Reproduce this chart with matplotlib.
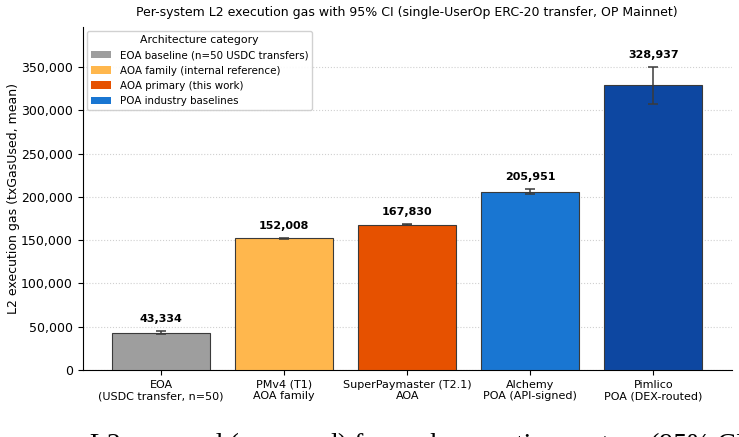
import matplotlib
matplotlib.use("Agg")
import matplotlib.pyplot as plt
from matplotlib.patches import Patch
import numpy as np

categories = ["EOA\n(USDC transfer, n=50)", "PMv4 (T1)\nAOA family", "SuperPaymaster (T2.1)\nAOA",
              "Alchemy\nPOA (API-signed)", "Pimlico\nPOA (DEX-routed)"]
means = [43334, 152008, 167830, 205951, 328937]
ci_half = [1600, 400, 400, 2900, 21600]
colors = ["#9e9e9e", "#ffb74d", "#e65100", "#1976d2", "#0d47a1"]
legend_labels = ["EOA baseline (n=50 USDC transfers)", "AOA family (internal reference)",
                 "AOA primary (this work)", "POA industry baselines"]
legend_colors = ["#9e9e9e", "#ffb74d", "#e65100", "#1976d2"]
caption = "are our L2 gas used (mean, sd) for each execution system (95% CI)"

fig = plt.figure(figsize=(7.39, 4.37), dpi=100)
ax = fig.add_axes([82.5/739, 1-370/437, (732-82.5)/739, (370-27)/437])

x = np.arange(len(categories))
ax.bar(x, means, width=0.8, color=colors, edgecolor="#3a3a3a", linewidth=0.8,
       yerr=ci_half, capsize=3.5, error_kw=dict(ecolor="#3a3a3a", elinewidth=1.1, capthick=1.1), zorder=3)
for xi, m, c in zip(x, means, ci_half):
    ax.annotate(f"{m:,}", (xi, m + c), xytext=(0, 5), textcoords="offset points",
                ha="center", va="bottom", fontsize=8, fontweight="bold")

ax.set_xticks(x)
ax.set_xticklabels(categories, fontsize=8)
ax.set_ylim(0, max(means) * 1.205)
ax.yaxis.set_major_formatter(matplotlib.ticker.FuncFormatter(lambda v, p: f"{int(v):,}"))
ax.tick_params(axis="y", labelsize=9)
ax.set_ylabel("L2 execution gas (txGasUsed, mean)", fontsize=9, labelpad=1)
ax.grid(axis="y", linestyle=":", color="#d0d0d0", linewidth=0.8, zorder=0)
ax.spines["top"].set_visible(False)
ax.spines["right"].set_visible(False)
ax.set_title("Per-system L2 execution gas with 95% CI (single-UserOp ERC-20 transfer, OP Mainnet)",
             fontsize=9, pad=8)

handles = [Patch(facecolor=c, label=l) for c, l in zip(legend_colors, legend_labels)]
ax.legend(handles=handles, title="Architecture category", loc="upper left", fontsize=7.4,
          title_fontsize=7.8, framealpha=0.9, borderaxespad=0.4)

fig.text(5/739, 1 - 452/437, caption,
         family="Liberation Serif", fontsize=20, ha="left", va="baseline")

fig.savefig("out.png", dpi=100)
